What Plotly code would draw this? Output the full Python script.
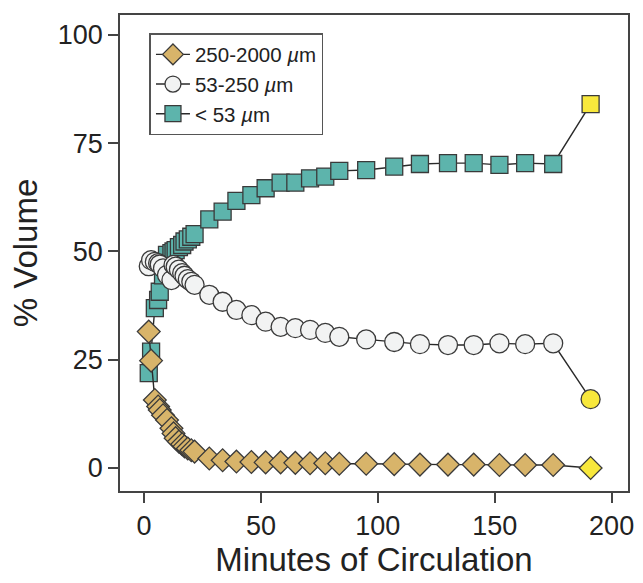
import plotly.graph_objects as go

# Minutes of circulation (last point = final sample)
minutes = [2, 3, 4.6, 6, 6.7, 8.1, 9.8, 11.7, 12.6, 13.5, 14.9, 16.3, 17.3, 18.7, 20.2,
           21.6, 27.9, 33.6, 39.5, 45.9, 52, 58.4, 64.7, 71, 77.5, 83.5,
           95, 107, 118, 130, 141, 152, 163, 175, 191]

coarse = [31.5, 24.8, 15.7, 14.2, 13.4, 12.2, 11.1, 9.2, 8.0, 6.9, 6.1, 5.5, 5.0, 4.5, 4.1,
          3.8, 2.2, 1.8, 1.5, 1.4, 1.3, 1.3, 1.2, 1.1, 1.1, 1.0,
          1.0, 0.9, 0.8, 0.8, 0.8, 0.7, 0.7, 0.7, 0.0]

medium = [46.6, 48.0, 47.6, 47.3, 47.0, 46.1, 44.6, 43.4, 46.9, 46.5, 45.8, 45.0, 44.4, 43.6, 43.0,
          42.3, 40.0, 38.4, 36.5, 35.3, 33.8, 32.6, 32.3, 31.9, 31.2, 30.3,
          29.7, 29.1, 28.6, 28.4, 28.4, 28.8, 28.6, 28.8, 15.9]

fine = [21.9, 26.9, 36.9, 38.8, 40.7, 44.5, 49.2, 49.6, 50.0, 50.3, 51.0, 51.5, 52.3, 52.8, 53.4,
        54.0, 57.4, 59.2, 61.7, 63.0, 64.6, 65.9, 65.9, 66.9, 67.3, 68.6,
        68.8, 69.6, 70.2, 70.4, 70.4, 70.0, 70.4, 70.2, 84.0]

names = ["250-2000 <i>µ</i>m", "53-250 <i>µ</i>m", "< 53 <i>µ</i>m"]

TAN = "#D8B46A"
WHITE = "#F2F3F3"
TEAL = "#5DB4AC"
YELLOW = "#F8E83C"
EDGE = "#3A3A3A"

def colors(base, n):
    return [base] * (n - 1) + [YELLOW]

n = len(minutes)
fig = go.Figure()
fig.add_trace(go.Scatter(
    x=minutes, y=fine, name=names[2], mode="lines+markers",
    line=dict(color="#2A2A2A", width=1.4),
    marker=dict(symbol="square", size=17, color=colors(TEAL, n),
                line=dict(color=EDGE, width=1.3)),
))
fig.add_trace(go.Scatter(
    x=minutes, y=medium, name=names[1], mode="lines+markers",
    line=dict(color="#2A2A2A", width=1.4),
    marker=dict(symbol="circle", size=19, color=colors(WHITE, n),
                line=dict(color=EDGE, width=1.3)),
))
fig.add_trace(go.Scatter(
    x=minutes, y=coarse, name=names[0], mode="lines+markers",
    line=dict(color="#2A2A2A", width=1.4),
    marker=dict(symbol="diamond", size=17.5, color=colors(TAN, n),
                line=dict(color=EDGE, width=1.3)),
))

font = "Liberation Sans, Arial, Helvetica, sans-serif"
fig.update_layout(
    width=643, height=583,
    margin=dict(l=120, r=9, t=15, b=92),
    paper_bgcolor="white", plot_bgcolor="white",
    font=dict(family=font, color="#222222"),
    showlegend=True,
    legend=dict(x=0.058, y=0.962, xanchor="left", yanchor="top",
                traceorder="reversed", bgcolor="white",
                bordercolor="#555555", borderwidth=1.5,
                font=dict(size=20.5, family=font, color="#222222"),
                itemwidth=34, tracegroupgap=0),
    xaxis=dict(range=[-10.3, 207], tickvals=[0, 50, 100, 150, 200],
               showgrid=False, zeroline=False, showline=True, mirror=True,
               linecolor="#444444", linewidth=1.5,
               ticks="outside", ticklen=10, tickwidth=1.5, tickcolor="#444444",
               tickfont=dict(size=27, family=font),
               title=dict(text="Minutes of Circulation", font=dict(size=33, family=font),
                          standoff=0)),
    yaxis=dict(range=[-5.3, 104.6], tickvals=[0, 25, 50, 75, 100],
               showgrid=False, zeroline=False, showline=True, mirror=True,
               linecolor="#444444", linewidth=1.5,
               ticks="outside", ticklen=10, tickwidth=1.5, tickcolor="#444444",
               tickfont=dict(size=27, family=font),
               title=dict(text="% Volume", font=dict(size=33, family=font),
                          standoff=10)),
)

fig.write_html("out.html")
